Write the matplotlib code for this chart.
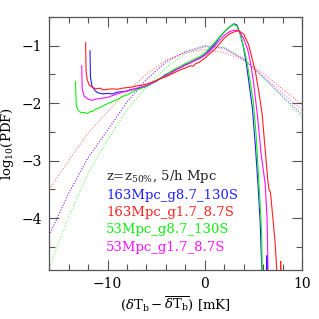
import numpy as np
import matplotlib
matplotlib.use("Agg")
import matplotlib.pyplot as plt

plt.rcParams['font.family'] = 'DejaVu Serif'
plt.rcParams['mathtext.fontset'] = 'dejavuserif'

# dotted curves (gaussian reference)
gx = [-16, -14, -12, -10, -8, -6, -4, -2, 0, 2, 4, 6, 8, 10]
dot_blue = [-4.30, -3.57, -2.95, -2.47, -1.98, -1.59, -1.28, -1.10, -1.00, -1.04, -1.24, -1.55, -1.88, -2.20]
dot_red = [-3.50, -3.00, -2.52, -2.15, -1.80, -1.50, -1.25, -1.12, -1.07, -1.12, -1.25, -1.48, -1.76, -2.02]
dot_green = [-4.86, -3.98, -3.22, -2.64, -2.12, -1.72, -1.38, -1.14, -1.01, -1.03, -1.22, -1.55, -1.90, -2.25]
dot_mag = [-4.30, -3.57, -2.95, -2.47, -1.98, -1.59, -1.29, -1.11, -1.02, -1.05, -1.24, -1.53, -1.83, -2.12]

# solid curves (simulation PDFs)
blue_x = [-11.8, -11.75, -11.6, -11.3, -11.0, -10.5, -10.0, -9.5, -9.0, -8.5, -8.0, -7.5, -7.0, -6.5,
          -6.0, -5.5, -5.0, -4.5, -4.0, -3.5, -3.0, -2.5, -2.0, -1.5, -1.0, -0.5, 0.0, 0.5, 1.0, 1.5,
          2.0, 2.5, 3.0, 3.3, 3.7, 4.0, 4.3, 4.6, 4.9, 5.2, 5.5, 5.7, 5.8, 5.9]
blue_y = [-1.09, -1.55, -1.70, -1.78, -1.82, -1.84, -1.83, -1.84, -1.81, -1.80, -1.79, -1.76, -1.75, -1.73,
          -1.71, -1.66, -1.62, -1.56, -1.50, -1.46, -1.42, -1.38, -1.33, -1.30, -1.25, -1.21, -1.16, -1.07,
          -0.98, -0.86, -0.76, -0.68, -0.62, -0.64, -0.82, -1.05, -1.35, -1.72, -2.10, -2.75, -3.50, -4.10,
          -4.60, -5.00]
blue_spike_x = [6.38, 6.40, 6.42]
blue_spike_y = [-5.2, -4.65, -5.2]

red_x = [-12.25, -12.2, -12.1, -11.9, -11.6, -11.2, -10.8, -10.4, -10.0, -9.5, -9.0, -8.5, -8.0, -7.5,
         -7.0, -6.5, -6.0, -5.5, -5.0, -4.5, -4.0, -3.5, -3.0, -2.5, -2.0, -1.5, -1.2, -1.0, -0.5, 0.0,
         0.5, 1.0, 1.5, 2.0, 2.5, 3.0, 3.5, 4.0, 4.5, 5.2, 5.6, 5.9, 6.2, 6.5, 6.6, 6.75, 7.2, 7.4, 7.45]
red_y = [-0.95, -1.45, -1.58, -1.68, -1.72, -1.75, -1.74, -1.77, -1.76, -1.75, -1.76, -1.74, -1.73, -1.72,
         -1.70, -1.69, -1.67, -1.64, -1.61, -1.57, -1.54, -1.50, -1.46, -1.42, -1.39, -1.35, -1.36, -1.32,
         -1.28, -1.22, -1.14, -1.07, -0.97, -0.87, -0.80, -0.76, -0.74, -0.80, -0.98, -1.45, -1.85, -2.20,
         -2.80, -3.38, -3.50, -3.55, -4.37, -4.90, -5.00]
red_spike_x = [7.78, 7.80, 7.82]
red_spike_y = [-5.2, -4.75, -5.2]

green_x = [-13.3, -13.2, -13.0, -12.7, -12.4, -12.1, -11.8, -11.5, -11.2, -10.8, -10.4, -10.0, -9.6, -9.2,
           -8.8, -8.4, -8.0, -7.5, -7.0, -6.5, -6.0, -5.5, -5.0, -4.5, -4.0, -3.5, -3.0, -2.5, -2.0, -1.5,
           -1.0, -0.5, 0.0, 0.5, 1.0, 1.5, 2.0, 2.5, 2.96, 3.3, 3.7, 4.1, 4.4, 4.7, 5.0, 5.3, 5.5, 5.7,
           5.85, 5.9]
green_y = [-1.63, -2.05, -2.13, -2.17, -2.16, -2.18, -2.15, -2.14, -2.10, -2.08, -2.04, -2.01, -1.98, -1.95,
           -1.92, -1.88, -1.86, -1.81, -1.77, -1.74, -1.71, -1.65, -1.60, -1.56, -1.52, -1.45, -1.40, -1.36,
           -1.31, -1.27, -1.23, -1.19, -1.13, -1.04, -0.95, -0.85, -0.76, -0.68, -0.63, -0.66, -0.84, -1.10,
           -1.35, -1.65, -2.00, -2.60, -3.20, -3.80, -4.30, -5.00]

mag_x = [-12.65, -12.6, -12.4, -12.0, -11.6, -11.2, -10.8, -10.4, -10.0, -9.5, -9.0, -8.5, -8.0, -7.5,
         -7.0, -6.5, -6.0, -5.5, -5.0, -4.5, -4.0, -3.5, -3.0, -2.5, -2.0, -1.5, -1.0, -0.5, 0.0, 0.5,
         1.0, 1.5, 2.0, 2.5, 3.0, 3.5, 4.0, 4.4, 4.7, 5.0, 5.4, 5.8, 6.2, 6.4, 6.5, 6.55]
mag_y = [-1.35, -1.75, -1.88, -1.93, -1.95, -1.93, -1.92, -1.91, -1.90, -1.87, -1.84, -1.81, -1.79, -1.77,
         -1.74, -1.72, -1.69, -1.65, -1.61, -1.57, -1.53, -1.48, -1.43, -1.38, -1.34, -1.30, -1.26, -1.22,
         -1.17, -1.10, -1.01, -0.91, -0.82, -0.76, -0.73, -0.74, -0.88, -1.06, -1.30, -1.63, -2.20, -2.90,
         -3.40, -4.00, -4.90, -5.00]

labels = ['163Mpc_g8.7_130S', '163Mpc_g1.7_8.7S', '53Mpc_g8.7_130S', '53Mpc_g1.7_8.7S']
colors = ['#1f1fff', '#ff2020', '#10ee10', '#ff10ff']

fig = plt.figure(figsize=(3.19, 3.19), dpi=100)
ax = fig.add_axes([0.154, 0.154, 0.793, 0.793])

dots = (0, (1, 1.8))
for yy, c in zip([dot_red, dot_green, dot_mag, dot_blue], [colors[1], colors[2], colors[3], colors[0]]):
    ax.plot(gx, yy, color=c, lw=0.7, ls=dots, alpha=0.75)

ax.plot(blue_x, blue_y, color=colors[0], lw=0.8)
ax.plot(blue_spike_x, blue_spike_y, color=colors[0], lw=0.8)
ax.plot(green_x, green_y, color=colors[2], lw=0.8)
ax.plot(mag_x, mag_y, color=colors[3], lw=0.8)
ax.plot(red_x, red_y, color=colors[1], lw=0.8)
ax.plot(red_spike_x, red_spike_y, color=colors[1], lw=0.8)

ax.set_xlim(-16, 10)
ax.set_ylim(-4.9, -0.5)
ax.set_xticks([-10, 0, 10])
ax.set_xticks(np.arange(-16, 11, 2), minor=True)
ax.set_yticks([-4, -3, -2, -1])
ax.set_yticks(np.arange(-4.5, -0.4, 0.5), minor=True)
ax.tick_params(which='both', direction='in', top=True, right=True, color='#555555', labelsize=10)
ax.tick_params(which='major', length=7, width=0.8, pad=5)
ax.tick_params(which='minor', length=4, width=0.8)
for s in ax.spines.values():
    s.set_color('#555555')
    s.set_linewidth(0.9)

ax.set_xlabel(r'$(\delta\mathrm{T_b}-\overline{\delta\mathrm{T}_\mathrm{b}})$ [mK]', fontsize=9.5, labelpad=3)
ax.set_ylabel(r'$\mathrm{log_{10}(PDF)}$', fontsize=9.5, labelpad=4)

ax.text(0.225, 0.355, r'z=z$_{50\%}$, 5/h Mpc', transform=ax.transAxes, fontsize=9.5, color='#222222')
for i, (lab, c) in enumerate(zip(labels, colors)):
    ax.text(0.225, 0.28 - i * 0.068, lab, transform=ax.transAxes, fontsize=9.5, color=c)

fig.savefig('out.png', dpi=100)
